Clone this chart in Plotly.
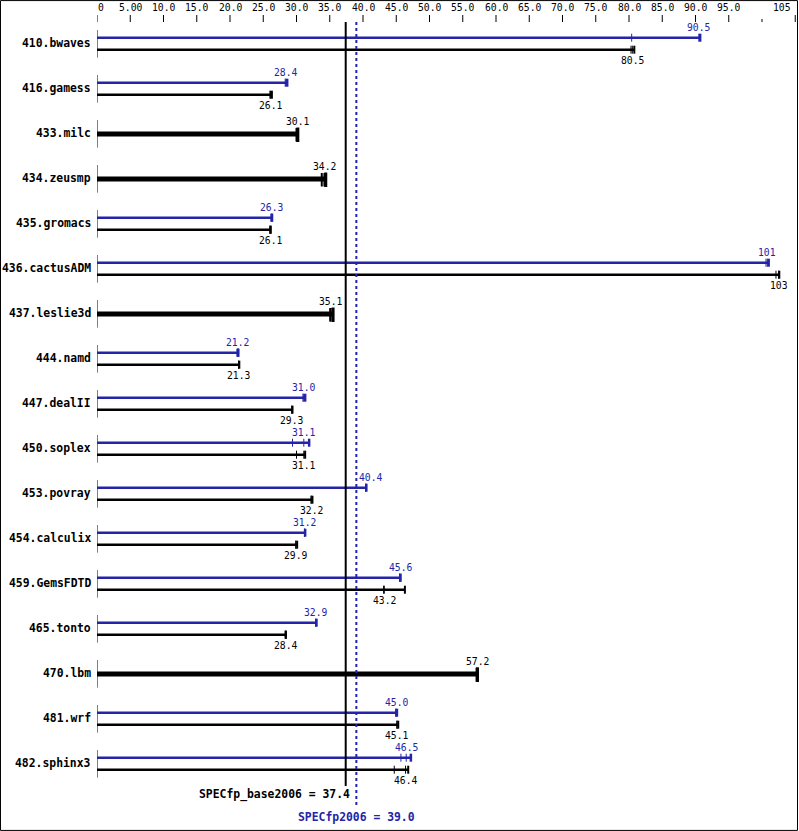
import plotly.graph_objects as go

benchmarks = ["410.bwaves", "416.gamess", "433.milc", "434.zeusmp", "435.gromacs",
              "436.cactusADM", "437.leslie3d", "444.namd", "447.dealII", "450.soplex",
              "453.povray", "454.calculix", "459.GemsFDTD", "465.tonto", "470.lbm",
              "481.wrf", "482.sphinx3"]

base_runs = [[80.3, 80.5, 80.8], [26.0, 26.1, 26.3], [30.0, 30.1, 30.2], [33.8, 34.2, 34.4],
             [26.0, 26.1, 26.1], [102.1, 102.5, 102.6], [35.1, 35.1, 35.5], [21.3, 21.3, 21.4],
             [29.3, 29.3, 29.4], [30.0, 31.1, 31.3], [32.2, 32.2, 32.4], [29.9, 29.9, 30.1],
             [43.1, 43.2, 46.3], [28.3, 28.4, 28.4], [57.1, 57.2, 57.2], [45.1, 45.1, 45.3],
             [44.7, 46.4, 46.8]]
base_labels = ["80.5", "26.1", "30.1", "34.2", "26.1", "103", "35.1", "21.3", "29.3", "31.1",
               "32.2", "29.9", "43.2", "28.4", "57.2", "45.1", "46.4"]

peak_runs = [[80.4, 90.5, 90.7], [28.3, 28.4, 28.6], None, None, [26.2, 26.3, 26.3],
             [100.6, 100.8, 101.0], None, [21.2, 21.2, 21.2], [31.0, 31.0, 31.3],
             [29.4, 31.1, 31.9], [40.4, 40.4, 40.5], [31.2, 31.2, 31.3], [45.5, 45.6, 45.6],
             [32.9, 32.9, 33.0], None, [44.9, 45.0, 45.1], [45.7, 46.5, 47.2]]
peak_labels = ["90.5", "28.4", None, None, "26.3", "101", None, "21.2", "31.0", "31.1",
               "40.4", "31.2", "45.6", "32.9", None, "45.0", "46.5"]

tick_vals = [0, 5, 10, 15, 20, 25, 30, 35, 40, 45, 50, 55, 60, 65, 70, 75, 80, 85, 90, 95, 100, 105]
tick_text = ["0", "5.00", "10.0", "15.0", "20.0", "25.0", "30.0", "35.0", "40.0", "45.0",
             "50.0", "55.0", "60.0", "65.0", "70.0", "75.0", "80.0", "85.0", "90.0", "95.0", "", "105"]

base_metric_name = "SPECfp_base2006"
base_metric = 37.4
peak_metric_name = "SPECfp2006"
peak_metric = 39.0

BLACK = "#000000"
BLUE = "#2424a8"
W, H = 799, 831
ML, MR = 97, 2
PXU = 6.65               # pixels per unit of x
ROW = 45.0               # pixels per row
C0 = 43.3                # pixel y of first row centre
XMAX = (W - ML - MR) / PXU
MONO = "DejaVu Sans Mono"
CHAR_W = 5.84            # approx glyph width of value labels in px


def py(px):
    """pixel row -> y data units"""
    return (px - C0) / ROW


def off(px):
    return px / ROW


def label_shift(v, text):
    """shift a value label right so it does not sit on a metric line"""
    half = len(text) * CHAR_W / 2
    cx = v * PXU
    for m in (base_metric, peak_metric):
        mx = m * PXU
        if cx - half < mx + 2 and cx + half > mx - 2 and cx > mx:
            return (mx + 2 + half) - cx
    return 0


fig = go.Figure()

bar_x, bar_y = {"b": [], "p": [], "s": []}, {"b": [], "p": [], "s": []}
tk = {k: ([], []) for k in ["b", "p", "s", "bE", "pE", "sE"]}
axis_x, axis_y = [], []
ann = []


def add_seg(store, x0, x1, y0, y1):
    store[0].extend([x0, x1, None])
    store[1].extend([y0, y1, None])


for i, name in enumerate(benchmarks):
    c = i
    axis_x.extend([0, 0, None])
    axis_y.extend([c - off(13.3), c + off(14.4), None])
    ann.append(dict(x=0, y=c, text="<b>%s</b>" % name, xanchor="right", xshift=-4,
                    font=dict(family=MONO, size=11.4, color=BLACK)))
    b = base_runs[i]
    bmed = sorted(b)[1]
    if peak_runs[i] is None:
        ys = c + off(0.7)
        bar_x["s"].extend([0, max(b), None]); bar_y["s"].extend([ys, ys, None])
        for v in b:
            if v == max(b):
                add_seg(tk["sE"], v, v, ys - off(6.5), ys + off(8))
            else:
                add_seg(tk["s"], v, v, ys - off(6), ys + off(7.5))
        ann.append(dict(x=bmed, y=c - off(12), text=base_labels[i], xanchor="center",
                        xshift=label_shift(bmed, base_labels[i]),
                        font=dict(family=MONO, size=9.7, color=BLACK)))
    else:
        p = peak_runs[i]
        pmed = sorted(p)[1]
        yp, yb = c - off(5.6), c + off(6.4)
        bar_x["p"].extend([0, max(p), None]); bar_y["p"].extend([yp, yp, None])
        bar_x["b"].extend([0, max(b), None]); bar_y["b"].extend([yb, yb, None])
        for v in p:
            add_seg(tk["pE"] if v == max(p) else tk["p"], v, v, yp - off(4), yp + off(4))
        for v in b:
            add_seg(tk["bE"] if v == max(b) else tk["b"], v, v, yb - off(4), yb + off(4))
        ann.append(dict(x=pmed, y=c - off(16), text=peak_labels[i], xanchor="center",
                        xshift=label_shift(pmed, peak_labels[i]),
                        font=dict(family=MONO, size=9.7, color=BLUE)))
        ann.append(dict(x=bmed, y=c + off(17.4), text=base_labels[i], xanchor="center",
                        xshift=label_shift(bmed, base_labels[i]),
                        font=dict(family=MONO, size=9.7, color=BLACK)))

# left axis segments
fig.add_trace(go.Scatter(x=axis_x, y=axis_y, mode="lines", line=dict(color=BLACK, width=1),
                         hoverinfo="skip", showlegend=False))
# bars
fig.add_trace(go.Scatter(x=bar_x["p"], y=bar_y["p"], mode="lines", line=dict(color=BLUE, width=2.5),
                         showlegend=False, name="peak"))
fig.add_trace(go.Scatter(x=bar_x["b"], y=bar_y["b"], mode="lines", line=dict(color=BLACK, width=2.5),
                         showlegend=False, name="base"))
fig.add_trace(go.Scatter(x=bar_x["s"], y=bar_y["s"], mode="lines", line=dict(color=BLACK, width=5),
                         showlegend=False, name="base=peak"))
# run ticks
for key, col, wd in [("p", BLUE, 1), ("pE", BLUE, 2.5), ("b", BLACK, 1), ("bE", BLACK, 2),
                     ("s", BLACK, 2), ("sE", BLACK, 3)]:
    fig.add_trace(go.Scatter(x=tk[key][0], y=tk[key][1], mode="lines",
                             line=dict(color=col, width=wd), hoverinfo="skip", showlegend=False))

# top scale ticks
sx, sy = [], []
for v, t in zip(tick_vals, tick_text):
    sx.extend([v, v, None])
    sy.extend([py(19 if t == "" else 15), py(22), None])
    if t:
        anchor = "left" if v == 0 else ("right" if v == tick_vals[-1] else "center")
        ann.append(dict(x=v, y=py(7.5), text=t, xanchor=anchor,
                        xshift=(-1 if v == 0 else (-2 if anchor == "right" else 0)),
                        font=dict(family=MONO, size=9.7, color=BLACK)))
fig.add_trace(go.Scatter(x=sx, y=sy, mode="lines", line=dict(color=BLACK, width=1),
                         hoverinfo="skip", showlegend=False))

# metric lines
fig.add_trace(go.Scatter(x=[base_metric, base_metric], y=[py(22), py(786)], mode="lines",
                         line=dict(color=BLACK, width=2), hoverinfo="skip", showlegend=False))
fig.add_trace(go.Scatter(x=[peak_metric, peak_metric], y=[py(22), py(808)], mode="lines",
                         line=dict(color=BLUE, width=2, dash="dot"), hoverinfo="skip",
                         showlegend=False))
ann.append(dict(x=base_metric, y=py(794.5), text="<b>%s = %.1f</b>" % (base_metric_name, base_metric),
                xanchor="right", xshift=6, font=dict(family=MONO, size=11.4, color=BLACK)))
ann.append(dict(x=peak_metric, y=py(817), text="<b>%s = %.1f</b>" % (peak_metric_name, peak_metric),
                xanchor="center", font=dict(family=MONO, size=11.4, color=BLUE)))

for a in ann:
    a.update(xref="x", yref="y", showarrow=False, yanchor="middle")

fig.update_layout(
    width=W, height=H, autosize=False,
    margin=dict(l=ML, r=MR, t=0, b=0, pad=0),
    paper_bgcolor="white", plot_bgcolor="white",
    xaxis=dict(range=[0, XMAX], visible=False, showgrid=False, zeroline=False, fixedrange=True),
    yaxis=dict(range=[py(H), py(0)], visible=False, showgrid=False, zeroline=False, fixedrange=True),
    annotations=ann,
    shapes=[dict(type="rect", xref="paper", yref="paper",
                 x0=-ML / (W - ML - MR) + 0.0007, x1=1 + (MR - 1.5) / (W - ML - MR),
                 y0=0.0007, y1=1 - 0.0007, line=dict(color=BLACK, width=1))],
    showlegend=False,
)

fig.write_html("out.html", config={"displayModeBar": False},
               post_script="document.body.style.margin='0px';document.body.style.overflow='hidden';")
